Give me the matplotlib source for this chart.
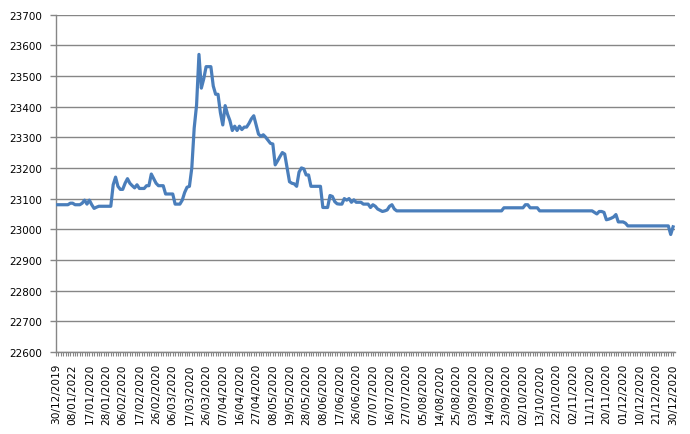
import numpy as np
import matplotlib
matplotlib.use("Agg")
import matplotlib.pyplot as plt
from matplotlib.ticker import MultipleLocator

# =============================================================================
# 2020 daily rate (business days, 30/12/2019 .. 30/12/2020)
# =============================================================================

RATES = [
    # 0-9
    23080, 23080, 23080, 23080, 23080, 23080, 23085, 23085, 23080, 23080,
    # 10-19
    23080, 23085, 23095, 23082, 23095, 23080, 23068, 23072, 23075, 23075,
    # 20-29
    23075, 23075, 23075, 23075, 23145, 23170, 23140, 23130, 23130, 23150,
    # 30-39
    23165, 23150, 23142, 23135, 23145, 23133, 23133, 23133, 23142, 23142,
    # 40-49
    23180, 23165, 23150, 23142, 23142, 23142, 23115, 23115, 23115, 23115,
    # 50-59
    23082, 23082, 23082, 23095, 23120, 23137, 23140, 23200, 23330, 23405,
    # 60-69
    23570, 23460, 23490, 23530, 23530, 23530, 23467, 23440, 23440, 23380,
    # 70-79
    23340, 23403, 23375, 23354, 23322, 23336, 23322, 23336, 23325, 23333,
    # 80-89
    23333, 23345, 23360, 23370, 23340, 23310, 23303, 23308, 23300, 23290,
    # 90-99
    23280, 23278, 23210, 23223, 23237, 23250, 23245, 23200, 23155, 23150,
    # 100-109
    23148, 23140, 23186, 23200, 23197, 23177, 23177, 23140, 23140, 23140,
    # 110-119
    23140, 23140, 23071, 23071, 23071, 23110, 23107, 23090, 23083, 23082,
    # 120-129
    23082, 23100, 23095, 23100, 23088, 23096, 23088, 23088, 23088, 23082,
    # 130-139
    23082, 23082, 23071, 23080, 23075, 23066, 23062, 23058, 23060, 23063,
    # 140-149
    23075, 23080, 23066, 23060, 23060, 23060, 23060, 23060, 23060, 23060,
    # 150-159
    23060, 23060, 23060, 23060, 23060, 23060, 23060, 23060, 23060, 23060,
    # 160-169
    23060, 23060, 23060, 23060, 23060, 23060, 23060, 23060, 23060, 23060,
    # 170-179
    23060, 23060, 23060, 23060, 23060, 23060, 23060, 23060, 23060, 23060,
    # 180-189
    23060, 23060, 23060, 23060, 23060, 23060, 23060, 23060, 23070, 23070,
    # 190-199
    23070, 23070, 23070, 23070, 23070, 23070, 23070, 23080, 23080, 23070,
    # 200-209
    23070, 23070, 23070, 23060, 23060, 23060, 23060, 23060, 23060, 23060,
    # 210-219
    23060, 23060, 23060, 23060, 23060, 23060, 23060, 23060, 23060, 23060,
    # 220-229
    23060, 23060, 23060, 23060, 23060, 23060, 23055, 23050, 23058, 23058,
    # 230-239
    23055, 23031, 23033, 23036, 23040, 23048, 23024, 23024, 23024, 23020,
    # 240-249
    23011, 23011, 23011, 23011, 23011, 23011, 23011, 23011, 23011, 23011,
    # 250-259
    23011, 23011, 23011, 23011, 23011, 23011, 23011, 23011, 22983, 23008,
]

# label every 7th category
TICK_LABELS = [
    "30/12/2019", "08/01/2022", "17/01/2020", "28/01/2020", "06/02/2020",
    "17/02/2020", "26/02/2020", "06/03/2020", "17/03/2020", "26/03/2020",
    "07/04/2020", "16/04/2020", "27/04/2020", "08/05/2020", "19/05/2020",
    "28/05/2020", "08/06/2020", "17/06/2020", "26/06/2020", "07/07/2020",
    "16/07/2020", "27/07/2020", "05/08/2020", "14/08/2020", "25/08/2020",
    "03/09/2020", "14/09/2020", "23/09/2020", "02/10/2020", "13/10/2020",
    "22/10/2020", "02/11/2020", "11/11/2020", "20/11/2020", "01/12/2020",
    "10/12/2020", "21/12/2020", "30/12/2020",
]
LABEL_STEP = 7

Y_MIN, Y_MAX, Y_STEP = 22600, 23700, 100

GRID = "#868686"
LINE = "#4A7EBB"

# -----------------------------------------------------------------------------
# plot
# -----------------------------------------------------------------------------
fig = plt.figure(figsize=(6.9, 4.35), dpi=100)
ax = fig.add_axes([56 / 690, 1 - 353 / 435, 619 / 690, (353 - 15.5) / 435])

x = np.arange(len(RATES))
ax.plot(x, RATES, color=LINE, lw=2.3, solid_joinstyle="round", zorder=3)

ax.set_ylim(Y_MIN, Y_MAX)
ax.set_yticks(np.arange(Y_MIN, Y_MAX + 1, Y_STEP))
ax.grid(True, axis="y", color=GRID, lw=1.0)
ax.set_axisbelow(True)

ax.set_xlim(0, len(RATES) - 1 + 0.8)
ax.set_xticks(x[::LABEL_STEP])
ax.set_xticklabels(TICK_LABELS, rotation=90, fontsize=7.6)
ax.xaxis.set_minor_locator(MultipleLocator(1))

for s in ["top", "right"]:
    ax.spines[s].set_visible(False)
for s in ["left", "bottom"]:
    ax.spines[s].set_color(GRID)
    ax.spines[s].set_linewidth(1.0)

ax.tick_params(axis="y", length=4, color=GRID, width=1.0, labelsize=7.5, pad=6)
ax.tick_params(axis="x", which="both", length=3, color=GRID, width=0.8, pad=5)

fig.savefig("out.png", dpi=100)
